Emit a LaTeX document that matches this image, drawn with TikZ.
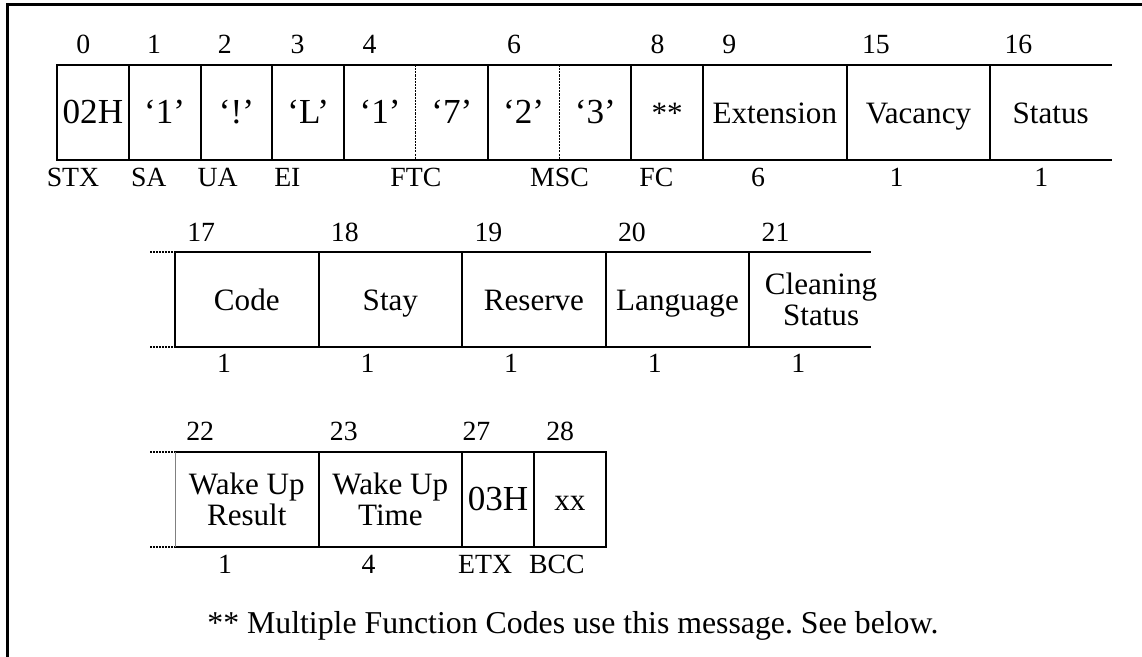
\documentclass[tikz,border=0pt]{standalone}
\usepackage{fontspec}
\setmainfont{Liberation Serif}
\usetikzlibrary{positioning,calc}
\frenchspacing

\begin{document}
\begin{tikzpicture}[
  x=0.02cm, y=-0.02cm,
  field/.style={rectangle, inner sep=0pt, outer sep=0pt, minimum height=1.9cm,
    minimum width=1.436cm, align=center, text height=0.54cm, text depth=0.1cm,
    font=\fontsize{17.7pt}{17.4pt}\selectfont},
  twoline/.style={text height=, text depth=},
  wide/.style={minimum width=2.872cm},
  big/.style={font=\fontsize{20pt}{20pt}\selectfont},
  idx/.style={anchor=base west, inner sep=0pt, font=\fontsize{15.8pt}{18pt}\selectfont},
  tag/.style={anchor=base, inner sep=0pt, font=\fontsize{15.8pt}{18pt}\selectfont},
  rail/.style={line width=1.1pt, line cap=rect},
  split/.style={line width=0.6pt, dash pattern=on 1.2pt off 0.6pt},
  stub/.style={line width=1.1pt, dash pattern=on 1.1pt off 0.6pt},
  frame/.style={line width=1.7pt},
]
\useasboundingbox (0,0) rectangle (1142,656);
\draw[frame] (7.5,660) |- (1146,4.5);

% first row
\node[field,big,anchor=north west] (stx) at (57,65) {02H};
\node[field,big,right=0pt of stx] (sa) {‘1’};
\node[field,big,right=0pt of sa] (ua) {‘!’};
\node[field,big,right=0pt of ua] (ei) {‘L’};
\node[field,big,right=0pt of ei] (ftca) {‘1’};
\node[field,big,right=0pt of ftca] (ftcb) {‘7’};
\node[field,big,right=0pt of ftcb] (msca) {‘2’};
\node[field,big,right=0pt of msca] (mscb) {‘3’};
\node[field,right=0pt of mscb] (fc) {**};
\node[field,wide,right=0pt of fc] (ext) {Extension};
\node[field,wide,right=0pt of ext] (vac) {Vacancy};
\node[field,minimum width=2.42cm,right=0pt of vac] (stat) {Status};

\draw[rail] (stx.north west) -- ($(stat.north west)+(121,0)$);
\draw[rail] (stx.south west) -- ($(stat.south west)+(121,0)$);
\foreach \n in {stx,sa,ua,ei,ftca,msca,fc,ext,vac,stat}
  \draw[rail] (\n.north west) -- (\n.south west);
\foreach \n in {ftcb,mscb}
  \draw[split] (\n.north west) -- (\n.south west);

\foreach \n/\t/\d in {stx/0/19,sa/1/18,ua/2/17,ei/3/18,ftca/4/18,msca/6/19,fc/8/19,ext/9/19,vac/15/15,stat/16/14}
  \node[idx] at ($(\n.north west)+(\d,-12)$) {\t};
\foreach \n/\t/\d in {stx/STX/16,sa/SA/20,ua/UA/17,ei/EI/15,ftcb/FTC/0,mscb/MSC/0,fc/FC/25,ext/6/55,vac/1/50,stat/1/51}
  \node[tag] at ($(\n.south west)+(\d,27)$) {\t};

% second row
\node[field,wide,anchor=north west] (code) at (175,252) {Code};
\node[field,wide,right=0pt of code] (stay) {Stay};
\node[field,wide,right=0pt of stay] (resv) {Reserve};
\node[field,wide,right=0pt of resv] (lang) {Language};
\node[field,wide,twoline,right=0pt of lang] (clean) {Cleaning\\Status};

\draw[rail] (code.north west) -- ($(clean.north west)+(121,0)$);
\draw[rail] (code.south west) -- ($(clean.south west)+(121,0)$);
\foreach \n in {code,stay,resv,lang,clean}
  \draw[rail] (\n.north west) -- (\n.south west);
\draw[stub] ($(code.north west)+(-25,0)$) -- (code.north west);
\draw[stub] ($(code.south west)+(-25,0)$) -- (code.south west);

\foreach \n/\t in {code/17,stay/18,resv/19,lang/20,clean/21}
  \node[idx] at ($(\n.north west)+(12,-11)$) {\t};
\foreach \n in {code,stay,resv,lang,clean}
  \node[tag] at ($(\n.south west)+(49,26)$) {1};

% third row
\node[field,wide,twoline,anchor=north west] (wres) at (175,452) {Wake Up\\Result};
\node[field,wide,twoline,right=0pt of wres] (wtime) {Wake Up\\Time};
\node[field,big,right=0pt of wtime] (etx) {03H};
\node[field,right=0pt of etx] (bcc) {xx};

\draw[rail] (wres.north west) -- (bcc.north east);
\draw[rail] (wres.south west) -- (bcc.south east);
\draw[line width=0.4pt, gray] (wres.north west) -- (wres.south west);
\foreach \n in {wtime,etx,bcc}
  \draw[rail] (\n.north west) -- (\n.south west);
\draw[rail] (bcc.north east) -- (bcc.south east);
\draw[stub] ($(wres.north west)+(-25,0)$) -- (wres.north west);
\draw[stub] ($(wres.south west)+(-25,0)$) -- (wres.south west);

\foreach \n/\t/\d in {wres/22/11,wtime/23/11,etx/27/0,bcc/28/12}
  \node[idx] at ($(\n.north west)+(\d,-12)$) {\t};
\foreach \n/\t/\d in {wres/1/50,wtime/4/50,etx/ETX/23,bcc/BCC/23}
  \node[tag] at ($(\n.south west)+(\d,27)$) {\t};

\node[anchor=base west, inner sep=0pt, font=\fontsize{18.1pt}{20pt}\selectfont]
  (note) at (207,633) {** Multiple Function Codes use this message. See below.};
\end{tikzpicture}
\end{document}
